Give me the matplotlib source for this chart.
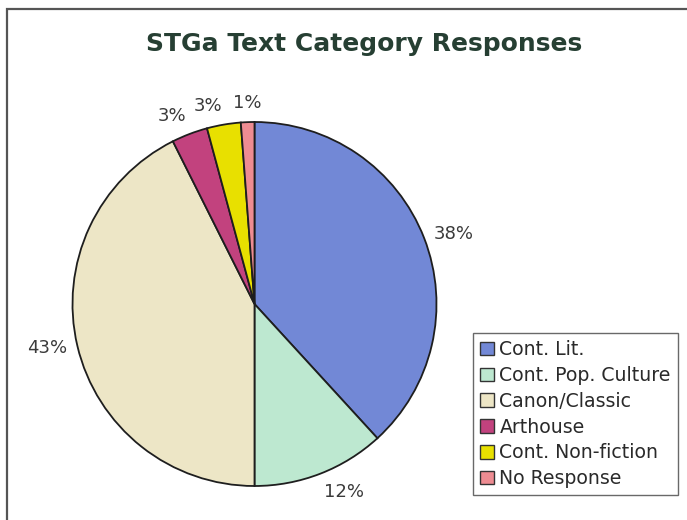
import matplotlib
matplotlib.use("Agg")
import numpy as np
import matplotlib.pyplot as plt
from matplotlib.patches import Patch, Rectangle

categories = ["Cont. Lit.", "Cont. Pop. Culture", "Canon/Classic",
              "Arthouse", "Cont. Non-fiction", "No Response"]
shares = [38.2, 11.8, 42.6, 3.2, 3.0, 1.2]
colors = ["#7288d6", "#bde8d0", "#ede6c6", "#c2427e", "#e8e000", "#ee8c92"]

plt.rcParams["font.family"] = ["DejaVu Sans"]

W, H = 687, 520
fig = plt.figure(figsize=(W / 100, H / 100), dpi=100)
fig.patch.set_facecolor("white")

# outer chart frame
fig.patches.append(Rectangle((7 / W, -0.05), 1.1, 1 - 9 / H + 0.05,
                             transform=fig.transFigure, fill=False,
                             edgecolor="#555555", linewidth=1.6))

cx, cy, r = 254.5, H - 304, 182
ax = fig.add_axes([(cx - r) / W, (cy - r) / H, 2 * r / W, 2 * r / H])
wedges, _ = ax.pie(
    shares, colors=colors, startangle=90, counterclock=False,
    wedgeprops=dict(edgecolor="#1e1e1e", linewidth=1.3))
ax.set_xlim(-1, 1)
ax.set_ylim(-1, 1)

# percentage labels anchored by the box corner nearest the rim
total = sum(shares)
for w, v in zip(wedges, shares):
    ang = np.deg2rad((w.theta1 + w.theta2) / 2)
    c, s = np.cos(ang), np.sin(ang)
    ha = "left" if c > 0.1 else ("right" if c < -0.1 else "center")
    va = "bottom" if s > 0.5 else ("top" if s < -0.5 else "center")
    ax.text(1.055 * c, 1.055 * s, f"{100 * v / total:.0f}%", ha=ha, va=va,
            fontsize=13, color="#3a3a3a", clip_on=False)

fig.text(364 / W, 1 - 44 / H, "STGa Text Category Responses",
         ha="center", va="center", fontsize=18, fontweight="bold",
         color="#263f33")

handles = [Patch(facecolor=c, edgecolor="#333333", linewidth=1.0) for c in colors]
leg = fig.legend(handles, categories, loc="upper left",
                 bbox_to_anchor=(473 / W, 1 - 333 / H),
                 fontsize=13.6, frameon=True, fancybox=False,
                 handlelength=0.72, handleheight=0.72, handletextpad=0.3,
                 labelspacing=0.36, borderpad=0.38, borderaxespad=0)
leg.get_frame().set_edgecolor("#444444")
leg.get_frame().set_linewidth(1.0)
for t in leg.get_texts():
    t.set_color("#2a2a2a")

fig.savefig("out.png", dpi=100)
